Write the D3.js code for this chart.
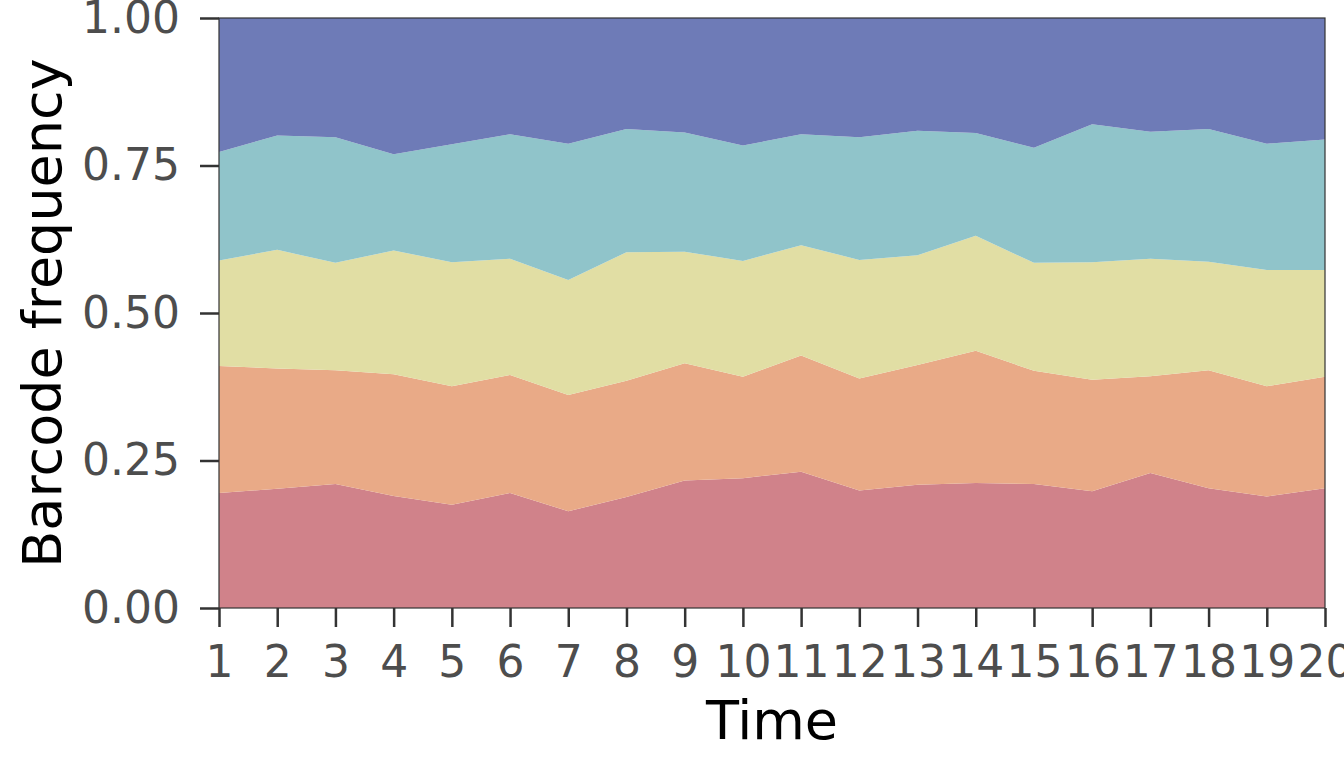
<!DOCTYPE html>
<html>
<head>
<meta charset="utf-8">
<script src="https://cdn.jsdelivr.net/npm/d3@7"></script>
<style>
  body { margin: 0; background: #fff; }
  text { font-family: "DejaVu Sans", sans-serif; }
</style>
</head>
<body>
<script>
// time points and barcode frequencies
var timePoints = [1, 2, 3, 4, 5, 6, 7, 8, 9, 10, 11, 12, 13, 14, 15, 16, 17, 18, 19, 20];
var barcode1 = [0.195, 0.202, 0.210, 0.190, 0.175, 0.195, 0.164, 0.188, 0.216, 0.220, 0.231, 0.199, 0.209, 0.212, 0.210, 0.198, 0.229, 0.203, 0.189, 0.203];
var barcode2 = [0.215, 0.204, 0.193, 0.206, 0.201, 0.200, 0.197, 0.197, 0.199, 0.172, 0.197, 0.190, 0.203, 0.224, 0.192, 0.189, 0.164, 0.200, 0.187, 0.189];
var barcode3 = [0.179, 0.201, 0.182, 0.210, 0.210, 0.197, 0.195, 0.218, 0.189, 0.196, 0.187, 0.201, 0.186, 0.195, 0.183, 0.199, 0.199, 0.184, 0.197, 0.181];
var barcode4 = [0.184, 0.194, 0.213, 0.163, 0.200, 0.211, 0.231, 0.209, 0.202, 0.196, 0.188, 0.208, 0.211, 0.174, 0.195, 0.234, 0.215, 0.225, 0.214, 0.221];
var barcode5 = [0.227, 0.199, 0.202, 0.231, 0.214, 0.197, 0.213, 0.188, 0.194, 0.216, 0.197, 0.202, 0.191, 0.195, 0.220, 0.180, 0.193, 0.188, 0.213, 0.206];
var yTicks = [0, 0.25, 0.5, 0.75, 1];
var colors = ["#D0828A", "#E9AA87", "#E1DEA4", "#90C4CA", "#6E7BB7"];

var width = 1344, height = 768;
var plotLeft = 219, plotRight = 1325, plotTop = 18, plotBottom = 608;

var keys = ["b1", "b2", "b3", "b4", "b5"];
var rows = timePoints.map(function (t, i) {
    return { time: t, b1: barcode1[i], b2: barcode2[i], b3: barcode3[i], b4: barcode4[i], b5: barcode5[i] };
});
var series = d3.stack().keys(keys)(rows);

var x = d3.scaleLinear().domain([1, 20]).range([plotLeft, plotRight]);
var y = d3.scaleLinear().domain([0, 1]).range([plotBottom, plotTop]);

var svg = d3.select("body").append("svg")
    .attr("width", width).attr("height", height);

var area = d3.area()
    .x(function (d) { return x(d.data.time); })
    .y0(function (d) { return y(d[0]); })
    .y1(function (d) { return y(d[1]); });

svg.selectAll("path.layer")
    .data(series)
    .enter().append("path")
    .attr("class", "layer")
    .attr("d", area)
    .attr("fill", function (d, i) { return colors[i]; });

// panel border
svg.append("rect")
    .attr("x", plotLeft).attr("y", plotTop)
    .attr("width", plotRight - plotLeft).attr("height", plotBottom - plotTop)
    .attr("fill", "none").attr("stroke", "#333").attr("stroke-width", 1.2);

// y axis
var yAxis = svg.append("g")
    .attr("transform", "translate(" + plotLeft + ",0)")
    .call(d3.axisLeft(y).tickValues(yTicks).tickFormat(d3.format(".2f")).tickSize(19).tickPadding(20));
yAxis.select(".domain").remove();
yAxis.selectAll(".tick line").attr("stroke", "#333").attr("stroke-width", 2.5);
yAxis.selectAll(".tick text").attr("fill", "#4D4D4D").attr("font-size", 44)
    .attr("font-family", "DejaVu Sans");

// x axis
var xAxis = svg.append("g")
    .attr("transform", "translate(0," + plotBottom + ")")
    .call(d3.axisBottom(x).tickValues(timePoints).tickFormat(d3.format("d")).tickSize(19).tickPadding(19));
xAxis.select(".domain").remove();
xAxis.selectAll(".tick line").attr("stroke", "#333").attr("stroke-width", 2.5);
xAxis.selectAll(".tick text").attr("fill", "#4D4D4D").attr("font-size", 44)
    .attr("font-family", "DejaVu Sans");

// axis titles
svg.append("text")
    .attr("x", (plotLeft + plotRight) / 2).attr("y", 739)
    .attr("text-anchor", "middle")
    .attr("font-size", 54).attr("fill", "#000")
    .text("Time");

svg.append("text")
    .attr("transform", "translate(61," + (plotTop + plotBottom) / 2 + ") rotate(-90)")
    .attr("text-anchor", "middle")
    .attr("font-size", 54).attr("fill", "#000")
    .text("Barcode frequency");
</script>
</body>
</html>
